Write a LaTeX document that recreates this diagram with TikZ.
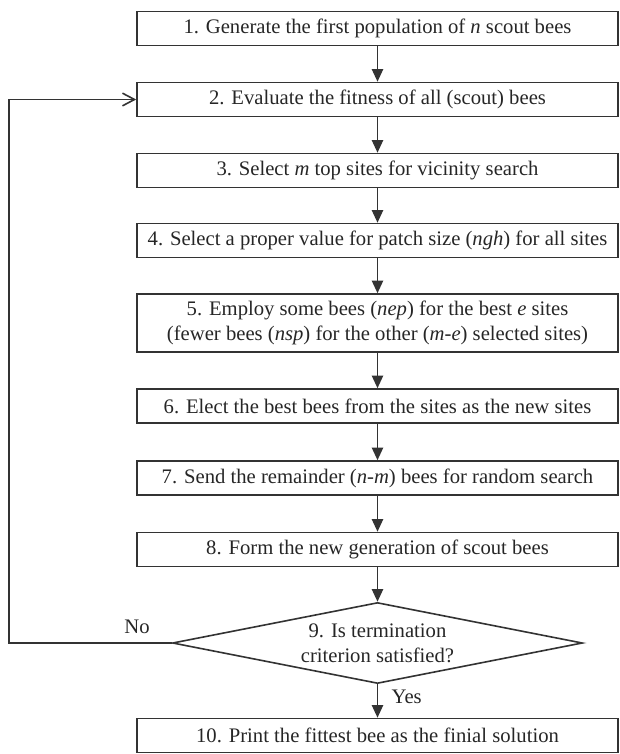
\documentclass[tikz,border=0pt]{standalone}
\usepackage{fontspec}
\setmainfont{Liberation Serif}
\usetikzlibrary{shapes.geometric,arrows.meta}

\begin{document}
\begin{tikzpicture}[%
			x=0.75pt, y=-0.75pt,
			every node/.style={align=center, text=black!85, font=\fontsize{15.5}{18.5}\selectfont},
			stepbox/.style={draw=black!80, line width=1.2pt, minimum width=360.75pt, minimum height=25.5pt, inner sep=0pt},
			decision/.style={draw=black!80, line width=1.2pt, diamond, aspect=5, minimum width=307.5pt, minimum height=60.75pt, inner sep=0pt},
			flow/.style={draw=black!80, line width=1.2pt, -{Triangle[length=9.5pt,width=8.5pt]}},
			back/.style={draw=black!80, line width=1.2pt, -{Straight Barb[length=9pt,width=9.5pt]}}
			]
			\useasboundingbox (0,0) rectangle (619,754);
			\node[stepbox] (1) at (377.5,28.5) {1. Generate the first population of \textit{n} scout bees};
			\node[stepbox] (2) at (377.5,99.5) {2. Evaluate the fitness of all (scout) bees};
			\node[stepbox] (3) at (377.5,170.5) {3. Select \textit{m} top sites for vicinity search};
			\node[stepbox] (4) at (377.5,240.5) {4. Select a proper value for patch size (\textit{ngh}) for all sites};
			\node[stepbox, minimum height=43.5pt] (5) at (377.5,323)
				{5. Employ some bees (\textit{nep}) for the best \textit{e} sites\\
				 (fewer bees (\textit{nsp}) for the other (\textit{m-e}) selected sites)};
			\node[stepbox] (6) at (377.5,406) {6. Elect the best bees from the sites as the new sites};
			\node[stepbox] (7) at (377.5,478) {7. Send the remainder (\textit{n-m}) bees for random search};
			\node[stepbox] (8) at (377.5,549.5) {8. Form the new generation of scout bees};
			\node[decision] (9) at (377.5,643) {9. Is termination\\ criterion satisfied?};
			\node[stepbox] (10) at (377.5,735.5) {10. Print the fittest bee as the finial solution};
			\node (no) at (137,627) {No};
			\node[anchor=west] (yes) at (387,697) {Yes};
			\coordinate (loop) at (9,643);

			\foreach \a/\b in {1/2,2/3,3/4,4/5,5/6,6/7,7/8,8/9,9/10}
				\draw[flow] (\a) -- (\b);
			\draw[back] (9.west) -- (loop) |- (2.west);
		\end{tikzpicture}
\end{document}
